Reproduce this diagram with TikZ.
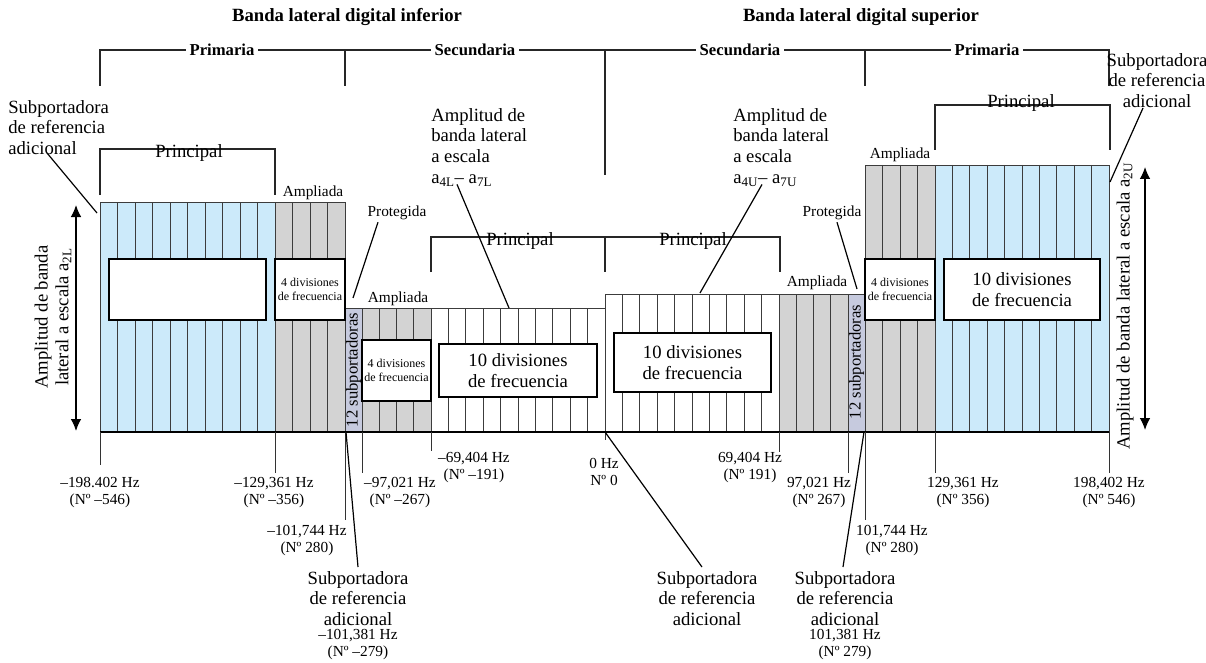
\documentclass[tikz,border=0pt]{standalone}
\usepackage{fontspec}
\setmainfont{Liberation Serif}
\usetikzlibrary{arrows.meta}
\definecolor{bandblue}{RGB}{204,234,250}
\definecolor{bandgray}{RGB}{211,211,211}
\definecolor{bandlav}{RGB}{198,202,222}
\definecolor{gridc}{RGB}{60,60,60}
\begin{document}
\begin{tikzpicture}[x=0.75pt,y=-0.75pt,
  gridl/.style={draw=gridc,line width=0.7pt},
  bandbox/.style={draw=gridc,line width=0.7pt},
  brk/.style={draw=black!85,line width=1.1pt},
  lead/.style={draw=black,line width=0.9pt},
  tickl/.style={draw=black!80,line width=0.7pt},
  ibox/.style={draw=black,line width=1.2pt,fill=white},
  txt/.style={font=\fontsize{14}{15.5}\selectfont,inner sep=0pt,align=center},
  txtl/.style={font=\fontsize{14}{15.5}\selectfont,inner sep=0pt,align=left},
  num/.style={font=\fontsize{11.5}{12.75}\selectfont,inner sep=0pt,align=center},
  sml/.style={font=\fontsize{11.5}{13}\selectfont,inner sep=0pt},
  tinyfour/.style={font=\fontsize{9}{10}\selectfont,inner sep=0pt,align=center},
  hd/.style={font=\fontsize{14}{16}\selectfont\bfseries,inner sep=0pt},
  sect/.style={font=\fontsize{12.5}{14}\selectfont\bfseries,inner xsep=2.5pt,inner ysep=1pt,fill=white},
  dbl/.style={line width=1pt,{Latex[length=9pt,width=8pt]}-{Latex[length=9pt,width=8pt]}}
]
\useasboundingbox (0,0) rectangle (1206,663);

% ---------- band fills ----------
\fill[bandblue] (100,202) rectangle (275,432);
\fill[bandgray] (275,202) rectangle (345,432);
\fill[bandlav]  (345,308) rectangle (362,432);
\fill[bandgray] (362,308) rectangle (431,432);
\fill[bandgray] (779,294) rectangle (848,432);
\fill[bandlav]  (848,294) rectangle (865,432);
\fill[bandgray] (865,165) rectangle (935,432);
\fill[bandblue] (935,165) rectangle (1109,432);

% ---------- division lines ----------
\foreach \a/\b/\t in {100/275/202,431/605/308,605/779/294,935/1109/165}
  \foreach \k in {1,...,9}
    \draw[gridl] ({\a+(\b-\a)*\k/10},\t) -- ({\a+(\b-\a)*\k/10},432);
\foreach \a/\b/\t in {275/345/202,362/431/308,779/848/294,865/935/165}
  \foreach \k in {1,2,3}
    \draw[gridl] ({\a+(\b-\a)*\k/4},\t) -- ({\a+(\b-\a)*\k/4},432);

% ---------- band outlines ----------
\draw[bandbox] (100,202) rectangle (275,432);
\draw[bandbox] (275,202) rectangle (345,432);
\draw[bandbox] (345,308) rectangle (362,432);
\draw[bandbox] (362,308) rectangle (431,432);
\draw[bandbox] (431,308) rectangle (605,432);
\draw[bandbox] (605,294) rectangle (779,432);
\draw[bandbox] (779,294) rectangle (848,432);
\draw[bandbox] (848,294) rectangle (865,432);
\draw[bandbox] (865,165) rectangle (935,432);
\draw[bandbox] (935,165) rectangle (1109,432);
\draw[line width=0.9pt] (100,432) -- (1109,432);

% ---------- inner boxes ----------
\draw[ibox] (109,259) rectangle (266,320);
\draw[ibox] (275,259) rectangle (345,320);
\draw[ibox] (362,340) rectangle (431,401);
\draw[ibox] (439,344) rectangle (597,397);
\draw[ibox] (614,333) rectangle (771,392);
\draw[ibox] (865,259) rectangle (935,320);
\draw[ibox] (944,259) rectangle (1100,320);
\node[tinyfour] (b4a) at (310,289.5) {4 divisiones\\de frecuencia};
\node[tinyfour] (b4b) at (396.5,370.5) {4 divisiones\\de frecuencia};
\node[tinyfour] (b4c) at (900,289.5) {4 divisiones\\de frecuencia};
\node[txt] (b10a) at (518,370.5) {10 divisiones\\de frecuencia};
\node[txt] (b10b) at (692.5,362.5) {10 divisiones\\de frecuencia};
\node[txt] (b10c) at (1022,289.5) {10 divisiones\\de frecuencia};

% ---------- protected bands text ----------
\node[font=\fontsize{12.5}{14}\selectfont,inner sep=0pt,rotate=90] (p12a) at (353.5,370) {12 subportadoras};
\node[font=\fontsize{12.5}{14}\selectfont,inner sep=0pt,rotate=90] (p12b) at (856.5,362) {12 subportadoras};

% ---------- ticks ----------
\draw[tickl] (100,432) -- (100,465);
\draw[tickl] (275,432) -- (275,473);
\draw[tickl] (345,432) -- (345,520);
\draw[tickl] (362,432) -- (362,473);
\draw[tickl] (431,432) -- (431,451);
\draw[tickl] (605,432) -- (605,440);
\draw[tickl] (779,432) -- (779,452);
\draw[tickl] (848,432) -- (848,473);
\draw[tickl] (865,432) -- (865,520);
\draw[tickl] (935,432) -- (935,473);
\draw[tickl] (1109,432) -- (1109,473);

% ---------- frequency labels ----------
\node[num] (f1) at (100,493) {–198.402 Hz\\(Nº –546)};
\node[num] (f2) at (274,493) {–129,361 Hz\\(Nº –356)};
\node[num] (f3) at (307,541) {–101,744 Hz\\(Nº 280)};
\node[num] (f4) at (400,493) {–97,021 Hz\\(Nº –267)};
\node[num] (f5) at (474,468) {–69,404 Hz\\(Nº –191)};
\node[num] (f6) at (604,472) {0 Hz\\Nº 0};
\node[num] (f7) at (750,468) {69,404 Hz\\(Nº 191)};
\node[num] (f8) at (819,493) {97,021 Hz\\(Nº 267)};
\node[num] (f9) at (892,541) {101,744 Hz\\(Nº 280)};
\node[num] (f10) at (963,493) {129,361 Hz\\(Nº 356)};
\node[num] (f11) at (1109,493) {198,402 Hz\\(Nº 546)};

% ---------- bottom reference subcarriers ----------
\node[txt,anchor=north] (rsL) at (358,571) {Subportadora\\de referencia\\adicional};
\node[num] (rsLf) at (358,645) {–101,381 Hz\\(Nº –279)};
\node[txt,anchor=north] (rsC) at (707,571) {Subportadora\\de referencia\\adicional};
\node[txt,anchor=north] (rsR) at (845,571) {Subportadora\\de referencia\\adicional};
\node[num] (rsRf) at (845,645) {101,381 Hz\\(Nº 279)};
\coordinate (rsLp) at (346,432);
\coordinate (rsCp) at (605,432);
\coordinate (rsRp) at (864,432);
\draw[lead] (rsL.north) ++(0,-4) coordinate (rsLe) (rsLe) -- (rsLp);
\draw[lead] (rsC.north) ++(-5,-4) coordinate (rsCe) (rsCe) -- (rsCp);
\draw[lead] (rsR.north) ++(-2,-4) coordinate (rsRe) (rsRe) -- (rsRp);

% ---------- titles and top brackets ----------
\node[hd] (tinf) at (347,17) {Banda lateral digital inferior};
\node[hd] (tsup) at (861,17) {Banda lateral digital superior};
\draw[brk] (100,86) -- (100,50) -- (1109,50) -- (1109,86);
\draw[brk] (345,50) -- (345,86);
\draw[brk] (605,50) -- (605,175);
\draw[brk] (865,50) -- (865,86);
\node[sect] (prL) at (222,50) {Primaria};
\node[sect] (seL) at (475,50) {Secundaria};
\node[sect] (seR) at (740,50) {Secundaria};
\node[sect] (prR) at (987,50) {Primaria};

% ---------- principal brackets ----------
\draw[brk] (100,195) -- (100,149) -- (275,149) -- (275,195);
\node[txt] (piL) at (189,153) {Principal};
\draw[brk] (431,272) -- (431,237) -- (780,237) -- (780,272);
\draw[brk] (605,237) -- (605,272);
\node[txt] (piSL) at (520,241) {Principal};
\node[txt] (piSR) at (693,241) {Principal};
\draw[brk] (935,150) -- (935,105) -- (1110,105) -- (1110,150);
\node[txt] (piR) at (1021,103) {Principal};

% ---------- Ampliada / Protegida ----------
\node[sml] (amp1) at (313,193) {Ampliada};
\node[sml] (amp2) at (398,299) {Ampliada};
\node[sml] (amp3) at (817,283) {Ampliada};
\node[sml] (amp4) at (900,155) {Ampliada};
\node[sml] (proL) at (397,213) {Protegida};
\node[sml] (proR) at (832,213) {Protegida};
\coordinate (proLp) at (353,298);
\coordinate (proRp) at (857,289);
\draw[lead] (proL.south) ++(-19,2) coordinate (proLe) (proLe) -- (proLp);
\draw[lead] (proR.south) ++(5,2) coordinate (proRe) (proRe) -- (proRp);

% ---------- top side reference subcarriers ----------
\node[txtl,anchor=north west] (rsTL) at (8,100) {Subportadora\\de referencia\\adicional};
\coordinate (rsTLp) at (97,213);
\draw[lead] (rsTL.south west) ++(39,-2) coordinate (rsTLe) (rsTLe) -- (rsTLp);
\node[txt,anchor=north] (rsTR) at (1157,53) {Subportadora\\de referencia\\adicional};
\coordinate (rsTRp) at (1110,182);
\draw[lead] (rsTR.south) ++(-14,0) coordinate (rsTRe) (rsTRe) -- (rsTRp);

% ---------- scaled amplitude labels ----------
\node[txtl,anchor=north west] (amL) at (431,108) {Amplitud de\\banda lateral\\a escala\\a\textsubscript{4L}– a\textsubscript{7L}};
\node[txtl,anchor=north west] (amU) at (733,108) {Amplitud de\\banda lateral\\a escala\\a\textsubscript{4U}– a\textsubscript{7U}};
\coordinate (amLp) at (509,308);
\coordinate (amUp) at (700,293);
\draw[lead] (amL.south west) ++(26,-2) coordinate (amLe) (amLe) -- (amLp);
\draw[lead] (amU.south west) ++(29,-2) coordinate (amUe) (amUe) -- (amUp);

% ---------- amplitude arrows ----------
\coordinate (arLt) at (76,205);
\coordinate (arLb) at (76,431);
\draw[dbl] (arLt) -- (arLb);
\node[txt,rotate=90] (arLlab) at (53,317) {Amplitud de banda\\lateral a escala a\textsubscript{2L}};
\coordinate (arRt) at (1145,167);
\coordinate (arRb) at (1145,430);
\draw[dbl] (arRt) -- (arRb);
\node[txt,rotate=90] (arRlab) at (1125,306) {Amplitud de banda lateral a escala a\textsubscript{2U}};
\end{tikzpicture}
\end{document}
